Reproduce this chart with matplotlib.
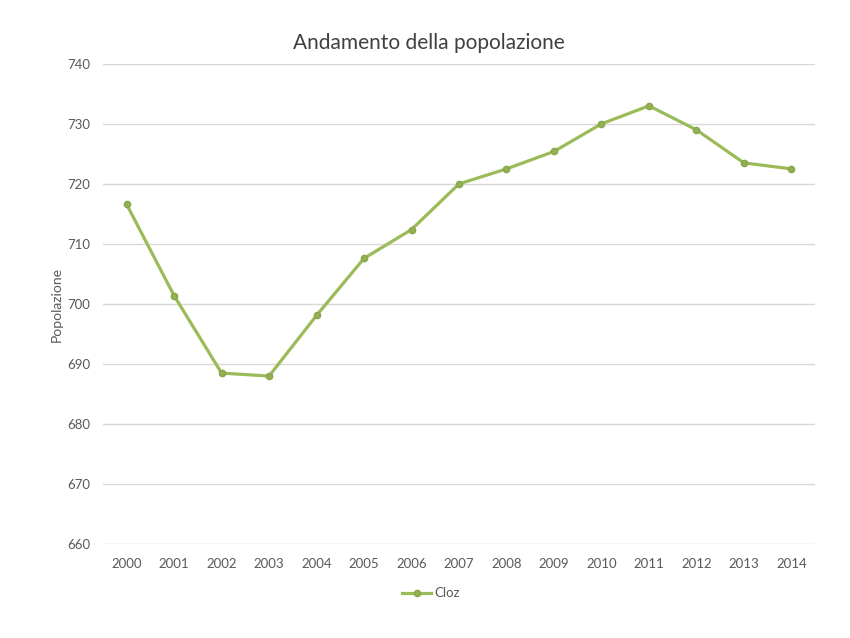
import matplotlib
matplotlib.use("Agg")
import matplotlib.pyplot as plt

# Data
anni = ["2000", "2001", "2002", "2003", "2004", "2005", "2006", "2007",
        "2008", "2009", "2010", "2011", "2012", "2013", "2014"]
popolazione = [716.6, 701.4, 688.5, 688.0, 698.1, 707.6, 712.4, 720.0,
               722.5, 725.4, 730.0, 733.0, 729.0, 723.5, 722.5]
y_ticks = [660, 670, 680, 690, 700, 710, 720, 730, 740]

plt.rcParams['font.family'] = ['Lato', 'DejaVu Sans']

fig = plt.figure(figsize=(8.5, 6.38), dpi=100)
ax = fig.add_axes([0.121, 0.147, 0.838, 0.753])

x = range(len(anni))
ax.plot(x, popolazione, color='#9BBB59', linewidth=2.3, marker='o',
        markersize=4.5, markerfacecolor='#93b052', markeredgecolor='#8aa64c',
        label='Cloz')

ax.set_xlim(-0.5, len(anni) - 0.5)
ax.set_ylim(660, 740)
ax.set_yticks(y_ticks)
ax.set_xticks(list(x))
ax.set_xticklabels(anni)
ax.grid(axis='y', color='#d9d9d9', linewidth=1)
ax.set_axisbelow(True)
for s in ax.spines.values():
    s.set_visible(False)
ax.tick_params(length=0, labelsize=9.5, colors='#595959', pad=10)
ax.tick_params(axis='y', pad=9)

ax.set_ylabel('Popolazione', fontsize=10, color='#595959', labelpad=3)
fig.suptitle('Andamento della popolazione', fontsize=15, color='#404040',
             x=0.504, y=0.948)

fig.legend(*ax.get_legend_handles_labels(), loc='center',
           bbox_to_anchor=(0.507, 0.07), frameon=False,
           fontsize=9.5, labelcolor='#595959', handlelength=2.2, handletextpad=0.2)

fig.savefig('out.png', dpi=100, facecolor='white')
